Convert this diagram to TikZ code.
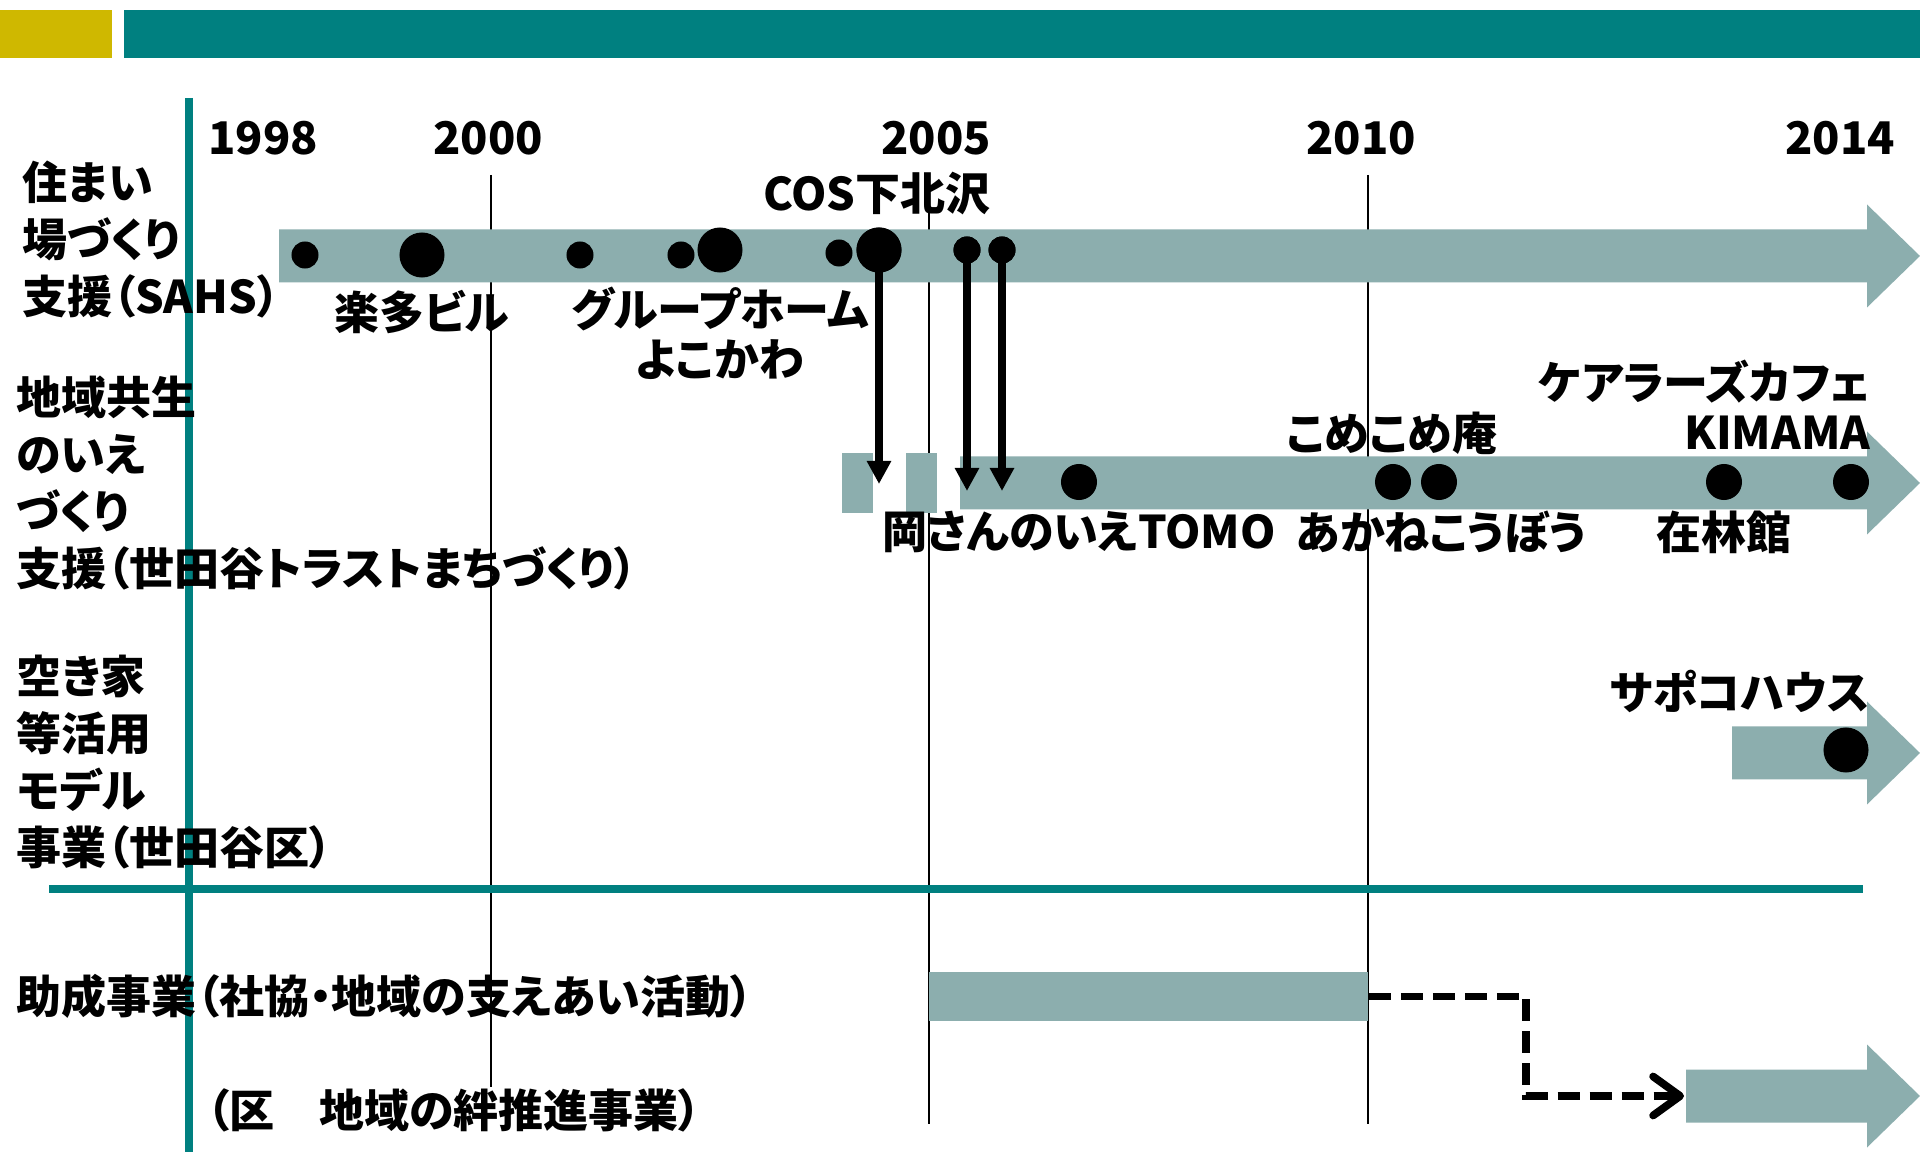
\documentclass[tikz,border=0pt]{standalone}
\usepackage{fontspec}
\setmainfont{Noto Sans CJK JP}[RawFeature=+palt]
\usetikzlibrary{arrows.meta,positioning}
\definecolor{barteal}{RGB}{0,128,128}
\definecolor{bargold}{RGB}{207,184,0}
\definecolor{bandc}{RGB}{140,174,174}

% timeline band with arrow head, #1 = left end, #2 = centre line
\newcommand\bandarrow[2]{%
  \fill[bandc] (#1,#2-26.5) -- (1867,#2-26.5) -- (1867,#2-51.5) -- (1920,#2)
    -- (1867,#2+51.5) -- (1867,#2+26.5) -- (#1,#2+26.5) -- cycle;}

\begin{document}
\begin{tikzpicture}[x=0.01cm,y=-0.01cm,
  txt/.style={font=\fontsize{12.8}{16.2}\selectfont\bfseries,inner sep=0pt},
  rowlabel/.style={txt,align=left,anchor=west},
  twoline/.style={txt,font=\fontsize{12.8}{14.2}\selectfont\bfseries},
  sdot/.style={circle,fill=black,inner sep=0pt,minimum size=2.7mm},
  bdot/.style={circle,fill=black,inner sep=0pt,minimum size=4.5mm},
  mdot/.style={circle,fill=black,inner sep=0pt,minimum size=3.6mm},
  gridline/.style={line width=0.5pt},
  axisline/.style={barteal,line width=2pt},
  block/.style={fill=bandc,inner sep=0pt,minimum width=0pt},
  varr/.style={line width=2.2pt,-{Triangle[length=2.3mm,width=2.3mm]}},
  darr/.style={line width=2.2pt,dash pattern=on 2.2mm off 1mm,
    -{Straight Barb[length=2.7mm,width=3.9mm,round]}}
]
\useasboundingbox (0,0) rectangle (1920,1152);

% header bars
\fill[bargold] (0,10) rectangle (112,58);
\fill[barteal] (124,10) rectangle (1920,58);

% year grid
\draw[gridline] (491,175) -- (491,1087);
\foreach \gx in {929,1368}
  \draw[gridline] (\gx,175) -- (\gx,1124);
\draw[axisline] (189,98) -- (189,1152);
\draw[axisline] (49,889) -- (1863,889);

\node[txt] (y98) at (263,138) {1998};
\node[txt] (y00) at (488,138) {2000};
\node[txt] (y05) at (936,138) {2005};
\node[txt] (y10) at (1361,138) {2010};
\node[txt] (y14) at (1840,138) {2014};

% bands
\bandarrow{279}{256}
\bandarrow{960}{483}
\bandarrow{1732}{753}
\bandarrow{1686}{1096}
\fill[bandc] (842,453) rectangle (873,513);
\fill[bandc] (906,453) rectangle (937,513);
\node[block,minimum width=4.39cm,minimum height=4.9mm] (grant) at (1148.5,996.5) {};

% row labels
\node[rowlabel] (sahs) at (22,240) {住まい\\場づくり\\支援（SAHS）};
\node[rowlabel] (trust) at (16,483) {地域共生\\のいえ\\づくり\\支援（世田谷トラストまちづくり）};
\node[rowlabel] (akiya) at (16,762) {空き家\\等活用\\モデル\\事業（世田谷区）};
\node[rowlabel] (josei) at (16,996) {助成事業（社協・地域の支えあい活動）};
\node[rowlabel] (kizuna) at (206,1110) {（区　地域の絆推進事業）};

% SAHS projects
\node[sdot] (s1) at (305,255) {};
\node[bdot] (s2) at (422,255) {};
\node[sdot] (s3) at (580,255) {};
\node[sdot] (s4) at (681,255) {};
\node[bdot] (s5) at (720,250) {};
\node[sdot] (s6) at (839,253) {};
\node[bdot] (s7) at (879,250) {};
\node[sdot] (s8) at (967,250) {};
\node[sdot] (s9) at (1002,250) {};

\node[txt] (cos) at (877,194) {COS下北沢};
\node[txt] (rakuta) at (422,312) {楽多ビル};
\node[twoline,align=center] (gh) at (720,333) {グループホーム\\よこかわ};

% handed over to the trust
\coordinate (t1) at (879,484);
\coordinate (t2) at (967,491);
\coordinate (t3) at (1002,491);
\draw[varr] (s7.center) -- (t1);
\draw[varr] (s8.center) -- (t2);
\draw[varr] (s9.center) -- (t3);
\node[bdot] at (s7) {};
\node[sdot] at (s8) {};
\node[sdot] at (s9) {};

% trust projects
\node[mdot] (m1) at (1079,482) {};
\node[mdot] (m2) at (1393,482) {};
\node[mdot] (m3) at (1439,482) {};
\node[mdot] (m4) at (1724,482) {};
\node[mdot] (m5) at (1851,482) {};

\node[txt] (tomo) at (1079,532) {岡さんのいえTOMO};
\node[txt] (kome) at (1392,433) {こめこめ庵};
\node[txt] (akane) at (1441,532) {あかねこうぼう};
\node[txt] (zairin) at (1724,532) {在林館};
\node[twoline,align=right,anchor=east] (kimama) at (1871,405) {ケアラーズカフェ\\KIMAMA};

% model project
\node[bdot] (a1) at (1846,750) {};
\node[txt,anchor=east] (sapoko) at (1870,691) {サポコハウス};

% grant continues as kizuna project
\coordinate (bend) at (1526,996.5);
\coordinate (kz) at (1684,1096);
\draw[darr] (grant.east) -- (bend) |- (kz);
\end{tikzpicture}
\end{document}
